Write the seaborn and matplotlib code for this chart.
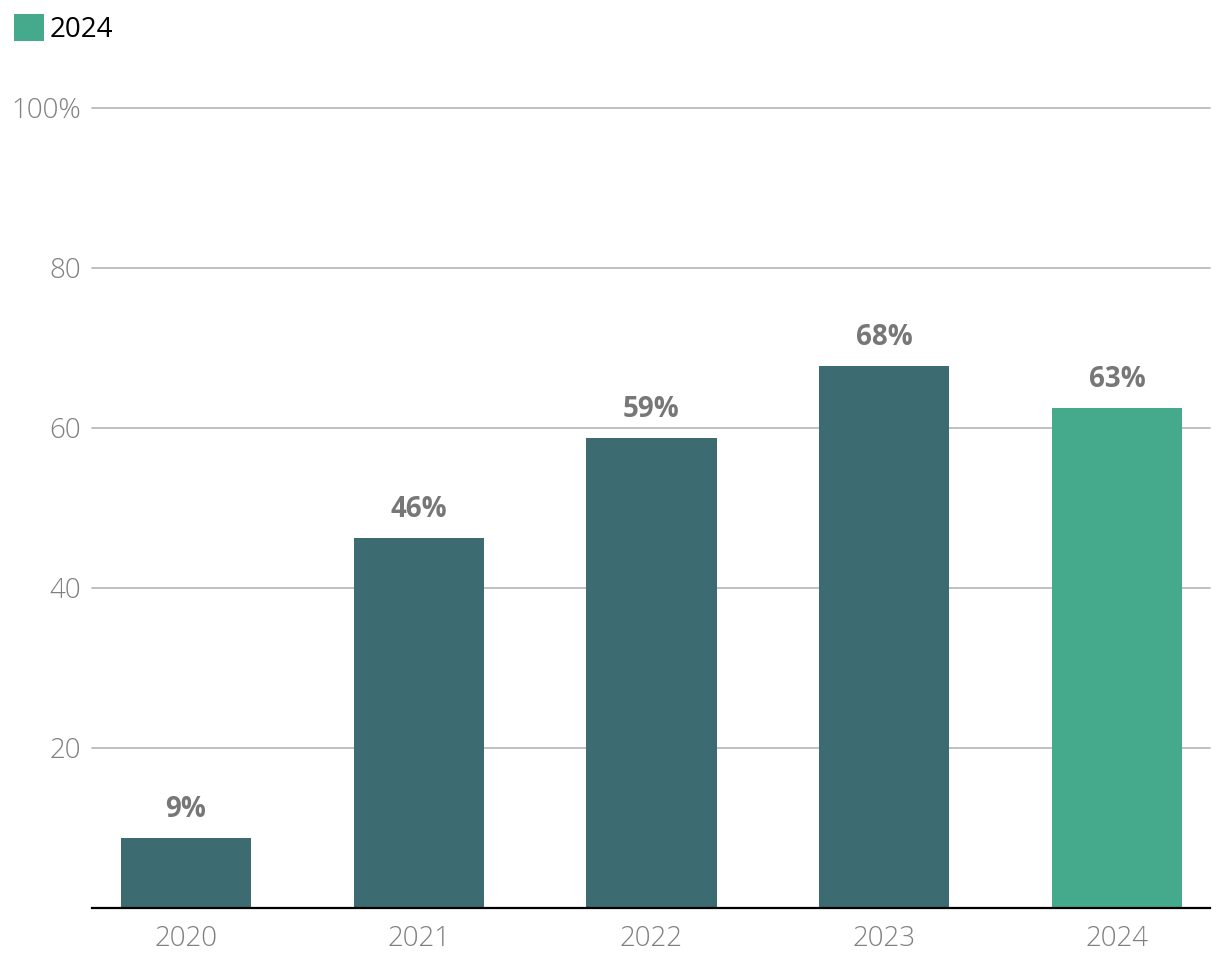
import matplotlib
matplotlib.use("Agg")
import matplotlib.pyplot as plt
import matplotlib.patches as mpatches
import seaborn as sns
import pandas as pd

years = ["2020", "2021", "2022", "2023", "2024"]
shares = [8.8, 46.3, 58.8, 67.8, 62.5]
labels = ["9%", "46%", "59%", "68%", "63%"]
yticks = [20, 40, 60, 80, 100]
ytick_labels = ["20", "40", "60", "80", "100%"]

dark = "#3d6b72"
green = "#45aa8b"
colors = [dark, dark, dark, dark, green]

sns.set_theme(style="white")
plt.rcParams["font.family"] = ["Open Sans", "DejaVu Sans"]

df = pd.DataFrame({"year": years, "share": shares})

fig = plt.figure(figsize=(12.2, 9.76), dpi=100)
ax = fig.add_axes([0.0754, 0.0697, 0.9164, 0.8197])

sns.barplot(data=df, x="year", y="share", hue="year", palette=colors,
            width=0.56, legend=False, saturation=1, linewidth=0, ax=ax)

for cont, lab in zip(ax.containers, labels):
    ax.bar_label(cont, labels=[lab], padding=10, fontsize=20,
                 fontweight="bold", color="#777777")

ax.set_ylim(0, 100)
ax.set_xlim(-0.404, 4.4)
ax.set_yticks(yticks)
ax.set_yticklabels(ytick_labels)
ax.yaxis.grid(True, color="#bbbbbb", linewidth=1.3)
ax.set_axisbelow(True)
for g in ax.get_ygridlines():
    g.set_clip_on(False)

for s in ["top", "right", "left"]:
    ax.spines[s].set_visible(False)
ax.spines["bottom"].set_color("black")
ax.spines["bottom"].set_linewidth(1.6)

ax.tick_params(axis="x", length=0, pad=12, labelsize=20, labelcolor="#808080")
ax.tick_params(axis="y", length=0, pad=8, labelsize=20, labelcolor="#808080")
for t in ax.get_xticklabels() + ax.get_yticklabels():
    t.set_fontweight("light")
ax.set_xlabel("")
ax.set_ylabel("")

handle = mpatches.Patch(color=green, label="2024", linewidth=0)
leg = fig.legend(handles=[handle], loc="upper left", bbox_to_anchor=(0.0, 1.0),
                 frameon=False, fontsize=20, handlelength=1.1, handleheight=1.1,
                 handletextpad=0.2, borderaxespad=0.2, borderpad=0.3)
for t in leg.get_texts():
    t.set_color("black")

fig.savefig("out.png", dpi=100)
